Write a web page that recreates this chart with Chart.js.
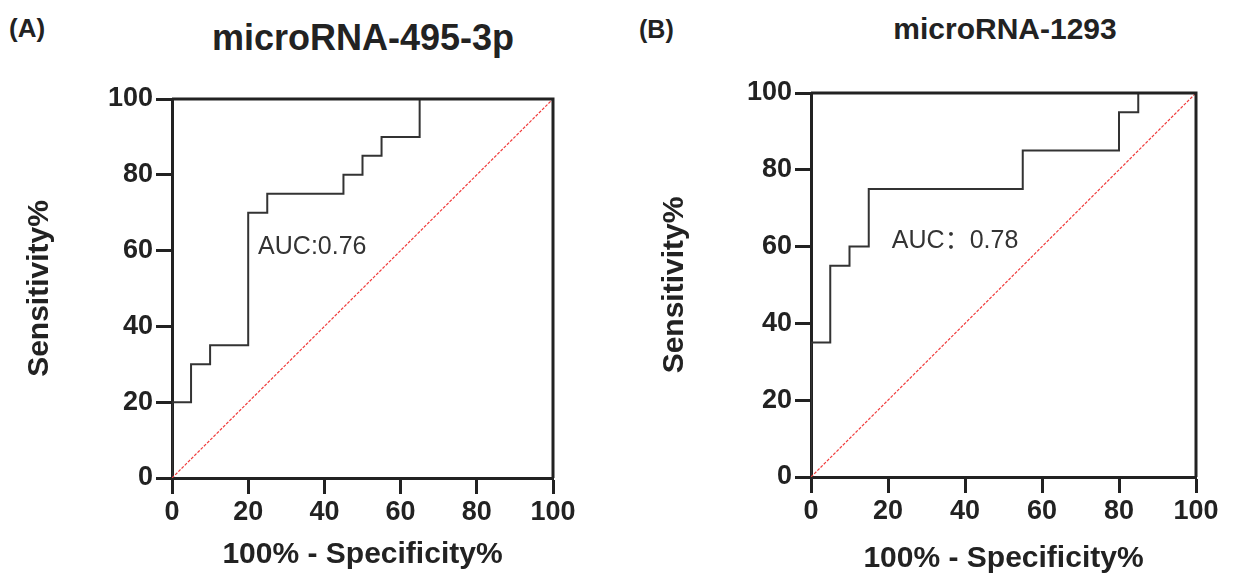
<!DOCTYPE html>
<html>
<head>
<meta charset="utf-8">
<script src="https://cdn.jsdelivr.net/npm/chart.js@4.4.1/dist/chart.umd.min.js"></script>
<style>
  body { margin:0; background:#fff; width:1235px; height:577px; position:relative; overflow:hidden;
         font-family:"Liberation Sans", Arial, sans-serif; color:#222; }
  .lbl { position:absolute; font-weight:bold; line-height:1; white-space:nowrap; }
  .box { position:absolute; top:0; height:577px; }
</style>
</head>
<body>
<div class="lbl" style="left:9px;top:15px;font-size:26px;">(A)</div>
<div class="lbl" style="left:163px;top:20px;width:400px;text-align:center;font-size:36px;">microRNA-495-3p</div>
<div class="lbl" style="left:639px;top:17px;font-size:25px;">(B)</div>
<div class="lbl" style="left:805px;top:14px;width:400px;text-align:center;font-size:30px;">microRNA-1293</div>

<div class="box" style="left:0;width:610px;"><canvas id="rocA"></canvas></div>
<div class="box" style="left:615px;width:620px;"><canvas id="rocB"></canvas></div>

<script>
// ROC curve A (microRNA-495-3p)
var fprA  = [0, 0, 5, 10, 20, 25, 45, 50, 55, 65, 100];
var sensA = [0, 20, 30, 35, 70, 75, 80, 85, 90, 100, 100];
// ROC curve B (microRNA-1293)
var fprB  = [0, 0, 5, 10, 15, 55, 80, 85, 100];
var sensB = [0, 35, 55, 60, 75, 85, 95, 100, 100];
// reference line
var diagX = [0, 100];
var diagY = [0, 100];
var tickVals = [0, 20, 40, 60, 80, 100];
var aucA = 'AUC:0.76';
var aucB = 'AUC\uFF1A0.78';

function pts(xs, ys) {
  var out = [];
  for (var i = 0; i < xs.length; i++) out.push({x: xs[i], y: ys[i]});
  return out;
}

// frame round the plot + AUC label
var framePlugin = {
  id: 'frame',
  afterDraw: function(chart) {
    var a = chart.chartArea, ctx = chart.ctx;
    ctx.save();
    ctx.strokeStyle = '#222';
    ctx.lineWidth = 3;
    ctx.beginPath();
    ctx.moveTo(a.left, a.top); ctx.lineTo(a.right, a.top); ctx.lineTo(a.right, a.bottom);
    ctx.stroke();
    var o = chart.options.plugins.aucText;
    ctx.fillStyle = '#333';
    ctx.font = '25px "Liberation Sans", "Noto Sans CJK SC", sans-serif';
    ctx.textBaseline = 'middle';
    ctx.fillText(o.text, chart.scales.x.getPixelForValue(o.x), chart.scales.y.getPixelForValue(o.y));
    ctx.restore();
  }
};

function makeRoc(id, xs, ys, geo, auc) {
  var tickFont = {family: '"Liberation Sans", Arial, sans-serif', size: 27, weight: 'bold'};
  var titleFont = {family: '"Liberation Sans", Arial, sans-serif', size: 30, weight: 'bold'};
  return new Chart(document.getElementById(id), {
    type: 'scatter',
    data: {
      datasets: [
        {
          data: pts(diagX, diagY),
          showLine: true,
          borderColor: '#f03c3c',
          borderWidth: 1.2,
          borderDash: [3, 1.5],
          pointRadius: 0
        },
        {
          data: pts(xs, ys),
          showLine: true,
          stepped: 'before',
          borderColor: '#333',
          borderWidth: 2,
          pointRadius: 0
        }
      ]
    },
    plugins: [framePlugin],
    options: {
      responsive: true,
      maintainAspectRatio: false,
      animation: false,
      layout: { padding: { top: geo.top, right: geo.right, left: 0, bottom: 0 } },
      plugins: {
        legend: { display: false },
        tooltip: { enabled: false },
        aucText: auc
      },
      scales: {
        x: {
          type: 'linear', min: 0, max: 100,
          afterFit: function(s) { s.height = geo.xh; },
          afterBuildTicks: function(s) { s.ticks = tickVals.map(function(v) { return {value: v}; }); },
          ticks: { font: tickFont, color: '#222', padding: 2, maxRotation: 0 },
          grid: { drawOnChartArea: false, drawTicks: true, tickLength: 16, tickWidth: 3, tickColor: '#222' },
          border: { display: true, width: 3, color: '#222' },
          title: { display: true, text: '100% - Specificity%', font: titleFont, color: '#222',
                   padding: { top: 0, bottom: geo.xtp } }
        },
        y: {
          type: 'linear', min: 0, max: 100,
          afterFit: function(s) { s.width = geo.yw; },
          afterBuildTicks: function(s) { s.ticks = tickVals.map(function(v) { return {value: v}; }); },
          ticks: { font: tickFont, color: '#222', padding: 3 },
          grid: { drawOnChartArea: false, drawTicks: true, tickLength: 16, tickWidth: 3, tickColor: '#222' },
          border: { display: true, width: 3, color: '#222' },
          title: { display: true, text: 'Sensitivity%', font: titleFont, color: '#222',
                   padding: { top: geo.ytp, bottom: 0 } }
        }
      }
    }
  });
}

makeRoc('rocA', fprA, sensA, {top: 99, right: 57, xh: 99, yw: 172, xtp: 4, ytp: 22}, {text: aucA, x: 22.6, y: 61});
makeRoc('rocB', fprB, sensB, {top: 93, right: 39, xh: 100, yw: 196, xtp: 0, ytp: 42}, {text: aucB, x: 21, y: 61.4});
</script>
</body>
</html>
